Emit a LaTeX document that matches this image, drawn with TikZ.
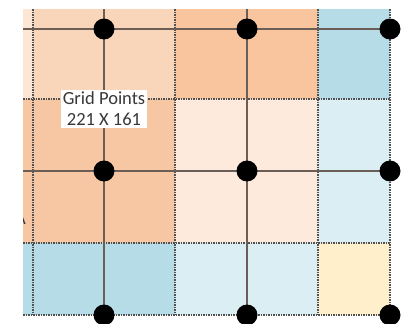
\documentclass[tikz,border=0pt]{standalone}
\usepackage{fontspec}
\setmainfont{Carlito}
\definecolor{pkA}{HTML}{FCE6D6}
\definecolor{pkB}{HTML}{F9D5BA}
\definecolor{orC}{HTML}{F8C59F}
\definecolor{orD}{HTML}{F7C6A2}
\definecolor{pkE}{HTML}{FDEADD}
\definecolor{blF}{HTML}{B6DCE7}
\definecolor{blG}{HTML}{DAEEF4}
\definecolor{ylH}{HTML}{FFF0CB}
\definecolor{solidline}{HTML}{6A5E56}
\definecolor{dashline}{HTML}{505050}
\definecolor{txt}{HTML}{383838}
\tikzset{
  dotline/.style={draw=dashline, line width=1.5pt, dash pattern=on 1.5pt off 1pt},
  gridline/.style={draw=solidline, line width=1.8pt},
  gpoint/.style={circle, fill=black, inner sep=0pt, minimum size=21pt},
  lbl/.style={fill=white, inner xsep=2pt, inner ysep=2pt, text=txt, font=\fontsize{18.5}{21}\selectfont, align=center}
}
\begin{document}
\begin{tikzpicture}[x=1pt,y=-1pt]
\useasboundingbox (0,0) rectangle (413,324);
\begin{scope}
\clip (23,9) rectangle (413,324);
% cells row 1
\fill[pkA] (23,9) rectangle (33,99);
\fill[pkB] (33,9) rectangle (175,99);
\fill[orC] (175,9) rectangle (318,99);
\fill[blF] (318,9) rectangle (390,99);
% row 2
\fill[orD] (23,99) rectangle (175,243);
\fill[pkE] (175,99) rectangle (318,243);
\fill[blG] (318,99) rectangle (390,243);
% row 3
\fill[blF] (23,243) rectangle (175,315);
\fill[blG] (175,243) rectangle (318,315);
\fill[ylH] (318,243) rectangle (390,315);
% fragment of a letter cut off at the left edge
\node[anchor=east, text=txt, font=\fontsize{18}{20}\selectfont, inner sep=0pt] (frag) at (26,219) {A};
% dashed cell borders
\coordinate (v1t) at (33,9);  \coordinate (v1b) at (33,315);
\coordinate (v2t) at (175,9); \coordinate (v2b) at (175,315);
\coordinate (v3t) at (318,9); \coordinate (v3b) at (318,315);
\coordinate (v4t) at (390,9); \coordinate (v4b) at (390,315);
\coordinate (h1l) at (23,99);  \coordinate (h1r) at (390,99);
\coordinate (h2l) at (23,243); \coordinate (h2r) at (390,243);
\coordinate (h3l) at (23,315); \coordinate (h3r) at (390,315);
\draw[dotline] (v1t) -- (v1b);
\draw[dotline] (v2t) -- (v2b);
\draw[dotline] (v3t) -- (v3b);
\draw[dotline] (v4t) -- (v4b);
\draw[dotline] (h1l) -- (h1r);
\draw[dotline] (h2l) -- (h2r);
\draw[dotline] (h3l) -- (h3r);
% solid grid lines
\coordinate (s1t) at (104,9);  \coordinate (s1b) at (104,315);
\coordinate (s2t) at (247,9);  \coordinate (s2b) at (247,315);
\coordinate (r1l) at (23,29);  \coordinate (r1r) at (390,29);
\coordinate (r2l) at (23,171); \coordinate (r2r) at (390,171);
\draw[gridline] (s1t) -- (s1b);
\draw[gridline] (s2t) -- (s2b);
\draw[gridline] (r1l) -- (r1r);
\draw[gridline] (r2l) -- (r2r);
% label
\node[lbl] (label) at (104,109) {Grid Points\\221 X 161};
\end{scope}
% grid points
\begin{scope}
\clip (0,0) rectangle (413,324);
\node[gpoint] (p11) at (104,29) {};
\node[gpoint] (p12) at (247,29) {};
\node[gpoint] (p13) at (390,29) {};
\node[gpoint] (p21) at (104,171) {};
\node[gpoint] (p22) at (247,171) {};
\node[gpoint] (p23) at (390,171) {};
\node[gpoint] (p31) at (104,315) {};
\node[gpoint] (p32) at (247,315) {};
\node[gpoint] (p33) at (390,315) {};
\end{scope}
\end{tikzpicture}
\end{document}
